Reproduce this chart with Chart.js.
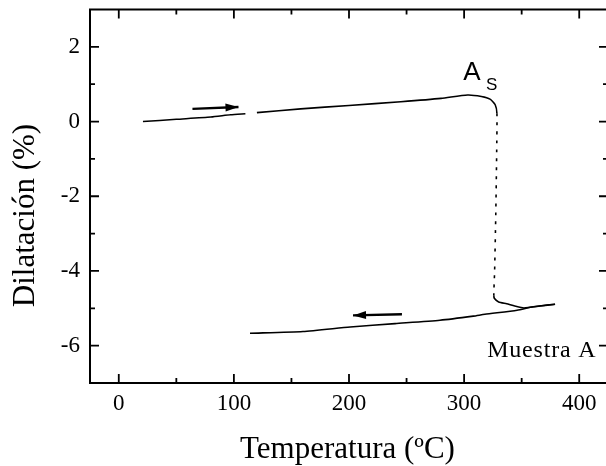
<!DOCTYPE html>
<html><head><meta charset="utf-8">
<script src="https://cdn.jsdelivr.net/npm/chart.js@4.4.0/dist/chart.umd.min.js"></script>
<style>
html,body{margin:0;padding:0;background:#fff;overflow:hidden;width:606px;height:466px}
#wrap{position:relative;width:610px;height:466px}
</style>
</head><body><div id="wrap"><canvas id="c"></canvas></div>
<script>
// ---- data ----
const heatingT = [21, 50, 80, 97, 110, 115, 120, 158, 200, 245, 280, 303, 315, 322.5, 327, 328.5, 328.3, 327.5, 326.5, 325.8, 326.4, 330, 337, 344, 352, 366, 379];
const heatingD = [0.00, 0.06, 0.12, 0.18, 0.21, null, 0.24, 0.34, 0.43, 0.53, 0.62, 0.71, 0.67, 0.60, 0.45, 0.22, -0.8, -2.5, -4.0, -4.65, -4.74, -4.83, -4.88, -4.94, -4.99, -4.94, -4.89];
const coolingT = [379, 360, 346, 318, 308, 279, 240, 201, 160, 114];
const coolingD = [-4.89, -4.96, -5.05, -5.16, -5.21, -5.32, -5.41, -5.50, -5.62, -5.67];
const arrowRightT = [64, 104];
const arrowRightD = [0.34, 0.39];
const arrowLeftT = [246, 203.5];
const arrowLeftD = [-5.16, -5.19];
const xTickValues = [0, 100, 200, 300, 400];
const xMinorValues = [50, 150, 250, 350];
const yTickValues = [-6, -4, -2, 0, 2];
const yMinorValues = [-5, -3, -1, 1];
const xTitle = 'Temperatura (ºC)';
const yTitle = 'Dilatación (%)';
const sampleLabel = 'Muestra A';

const pts = (xs, ys) => xs.map((v, i) => ({x: v, y: ys[i]}));
const SERIF = '"Liberation Serif","Times New Roman",serif';

const decor = {
  id: 'decor',
  afterDatasetsDraw(chart) {
    const ctx = chart.ctx;
    ctx.save();
    chart.data.datasets.forEach((ds, i) => {
      if (!ds.arrow) return;
      const el = chart.getDatasetMeta(i).data;
      const p1 = el[el.length - 2], p2 = el[el.length - 1];
      const ang = Math.atan2(p2.y - p1.y, p2.x - p1.x);
      const L = 13, W = 4;
      const c = Math.cos(ang), s = Math.sin(ang);
      ctx.beginPath();
      ctx.moveTo(p2.x, p2.y);
      ctx.lineTo(p2.x - L * c + W * s, p2.y - L * s - W * c);
      ctx.lineTo(p2.x - L * c - W * s, p2.y - L * s + W * c);
      ctx.closePath();
      ctx.fillStyle = '#000';
      ctx.fill();
    });
    ctx.restore();
  },
  afterDraw(chart) {
    const {ctx, chartArea: a, scales: {x, y}} = chart;
    ctx.save();
    ctx.strokeStyle = '#000';
    ctx.lineWidth = 2;
    ctx.strokeRect(a.left, a.top, a.right - a.left, a.bottom - a.top);
    const tick = (vals, len) => {
      vals.forEach(v => {
        const px = x.getPixelForValue(v);
        ctx.beginPath();
        ctx.moveTo(px, a.bottom); ctx.lineTo(px, a.bottom - len);
        ctx.moveTo(px, a.top); ctx.lineTo(px, a.top + len);
        ctx.stroke();
      });
    };
    const ytick = (vals, len) => {
      vals.forEach(v => {
        const py = y.getPixelForValue(v);
        ctx.beginPath();
        ctx.moveTo(a.left, py); ctx.lineTo(a.left + len, py);
        ctx.moveTo(a.right, py); ctx.lineTo(a.right - len, py);
        ctx.stroke();
      });
    };
    ctx.lineWidth = 1.8;
    tick(xTickValues, 9); tick(xMinorValues, 5);
    ytick(yTickValues, 9); ytick(yMinorValues, 5);

    ctx.fillStyle = '#000';
    // A_s label
    ctx.textBaseline = 'alphabetic';
    ctx.textAlign = 'left';
    ctx.font = '26px "Liberation Sans", Arial, sans-serif';
    ctx.fillText('A', x.getPixelForValue(299.2), y.getPixelForValue(1.11));
    ctx.font = '17px "Liberation Sans", Arial, sans-serif';
    ctx.fillText('S', x.getPixelForValue(319.1), y.getPixelForValue(0.85));
    // sample label
    ctx.font = '24px ' + SERIF;
    if ('letterSpacing' in ctx) ctx.letterSpacing = '0.8px';
    ctx.fillText(sampleLabel, x.getPixelForValue(320), y.getPixelForValue(-6.31));
    if ('letterSpacing' in ctx) ctx.letterSpacing = '0px';
    // axis titles
    ctx.font = '31px ' + SERIF;
    ctx.textAlign = 'center';
    ctx.fillText(xTitle, 347.5, 458);
    ctx.translate(34, 215.5);
    ctx.rotate(-Math.PI / 2);
    ctx.fillText(yTitle, 0, 0);
    ctx.restore();
  }
};

new Chart(document.getElementById('c'), {
  type: 'line',
  data: {
    datasets: [
      {data: pts(heatingT, heatingD), borderColor: '#000', borderWidth: 1.6, pointRadius: 0, tension: 0.2, spanGaps: false,
       segment: {borderDash: c => Math.abs(c.p0.parsed.y - c.p1.parsed.y) > 0.5 ? [3, 6] : undefined}},
      {data: pts(coolingT, coolingD), borderColor: '#000', borderWidth: 1.6, pointRadius: 0, tension: 0.2},
      {data: pts(arrowRightT, arrowRightD), borderColor: '#000', borderWidth: 2.4, pointRadius: 0, arrow: true},
      {data: pts(arrowLeftT, arrowLeftD), borderColor: '#000', borderWidth: 2.4, pointRadius: 0, arrow: true}
    ]
  },
  options: {
    responsive: true,
    maintainAspectRatio: false,
    devicePixelRatio: 1,
    animation: false,
    layout: {autoPadding: false, padding: {left: 0, right: 2, top: 9.5, bottom: 0}},
    plugins: {legend: {display: false}, tooltip: {enabled: false}},
    scales: {
      x: {
        type: 'linear', min: -25, max: 425,
        grid: {display: false, drawTicks: false}, border: {display: false},
        afterBuildTicks: s => { s.ticks = xTickValues.map(v => ({value: v})); },
        afterFit: s => { s.height = 83; s.paddingLeft = 0; s.paddingRight = 0; },
        ticks: {color: '#000', padding: 7, font: {family: SERIF, size: 23}, maxRotation: 0}
      },
      y: {
        type: 'linear', min: -7, max: 3,
        grid: {display: false, drawTicks: false}, border: {display: false},
        afterBuildTicks: s => { s.ticks = yTickValues.map(v => ({value: v})); },
        afterFit: s => { s.width = 90; s.paddingTop = 0; s.paddingBottom = 0; },
        ticks: {color: '#000', padding: 10, font: {family: SERIF, size: 23}}
      }
    }
  },
  plugins: [decor]
});
</script>
</body></html>
